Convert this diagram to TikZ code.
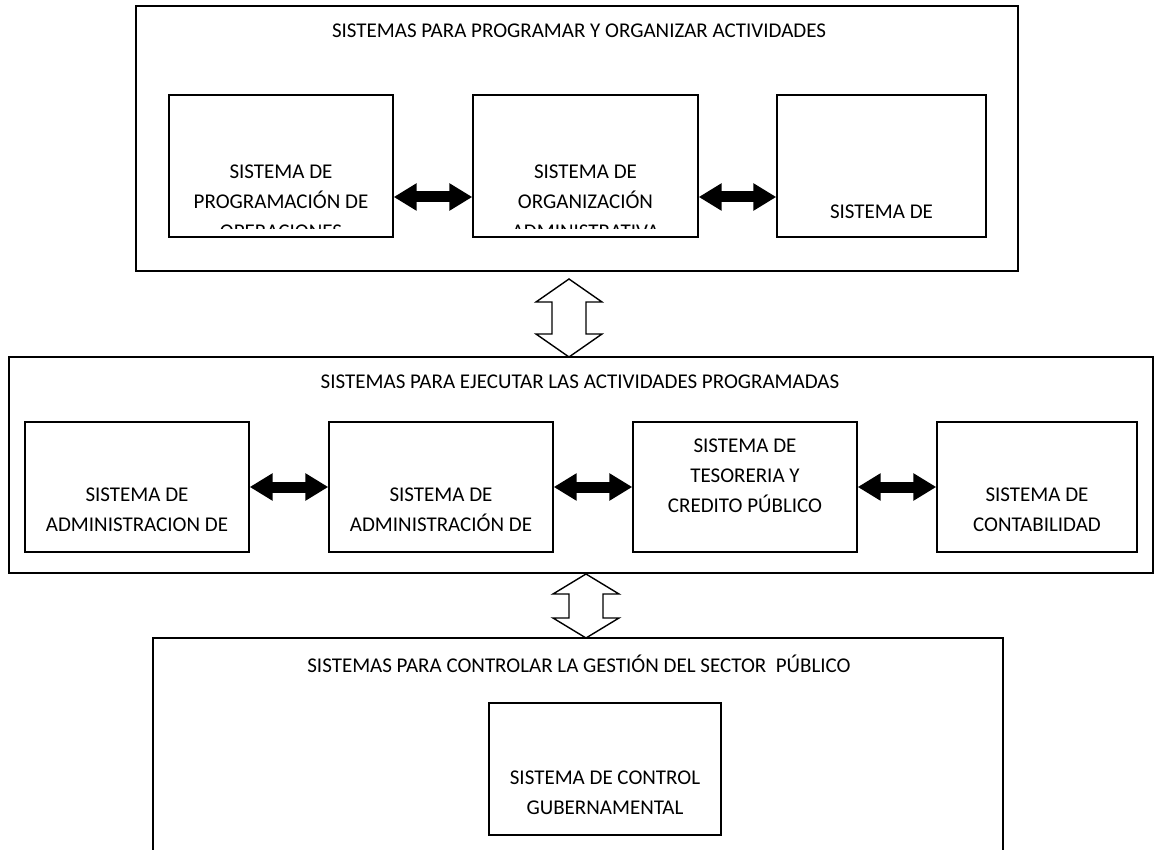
\documentclass[tikz,border=0pt]{standalone}
\usepackage{fontspec}
\setmainfont{Carlito}
\usetikzlibrary{arrows.meta}
\tikzset{
  outerbox/.style={draw, line width=1.8pt, inner sep=0pt},
  innerbox/.style={draw, line width=1.4pt, inner sep=0pt},
  lbl/.style={font=\fontsize{21}{30}\selectfont, align=center, inner sep=0pt},
  ttl/.style={font=\fontsize{21}{30}\selectfont, inner sep=0pt},
  blackarr/.style={line width=11pt, {Triangle[length=23pt,width=26pt]}-{Triangle[length=23pt,width=26pt]}},
  hollow/.style={draw, line width=1.4pt, fill=white, line join=miter}
}
\newcommand{\hollowarr}[3]{\draw[hollow] (#1) -- ++(33,#3) -- ++(-16,0) -- ++(0,#2) -- ++(16,0) -- ++(-33,#3) -- ++(-33,-#3) -- ++(16,0) -- ++(0,-#2) -- ++(-16,0) -- cycle;}
\begin{document}
\begin{tikzpicture}[x=1pt,y=-1pt]
\useasboundingbox (0,0) rectangle (1163,850);
% outer boxes
\node[outerbox, minimum width=882pt, minimum height=265pt] (P) at (577,138.5) {};
\node[outerbox, minimum width=1144pt, minimum height=216pt] (E) at (581,465) {};
\draw[line width=1.8pt] (153,860) -- (153,638) -- (1003,638) -- (1003,860);
\coordinate (C) at (578,638);
% titles
\node[ttl] (t1) at (579,31) {SISTEMAS PARA PROGRAMAR Y ORGANIZAR ACTIVIDADES};
\node[ttl] (t2) at (580,382) {SISTEMAS PARA EJECUTAR LAS ACTIVIDADES PROGRAMADAS};
\node[ttl] (t3) at (579,664) {SISTEMAS PARA CONTROLAR LA GESTIÓN DEL SECTOR\ \ PÚBLICO};
% top row
\node[innerbox, minimum width=224pt, minimum height=142pt] (A) at (281,166) {};
\node[innerbox, minimum width=225pt, minimum height=142pt] (B) at (585.5,166) {};
\node[innerbox, minimum width=209pt, minimum height=142pt] (Cc) at (881.5,166) {};
\begin{scope}
\clip (169,95) rectangle (986,229);
\node[lbl] (At) at (281,202) {SISTEMA DE\\PROGRAMACIÓN DE\\OPERACIONES};
\node[lbl] (Bt) at (585.5,202) {SISTEMA DE\\ORGANIZACIÓN\\ADMINISTRATIVA};
\node[lbl] (Ct) at (881.5,212) {SISTEMA DE};
\end{scope}
\draw[blackarr] ([yshift=-31pt]A.east) -- ([yshift=-31pt]B.west);
\draw[blackarr] ([yshift=-31pt]B.east) -- ([yshift=-31pt]Cc.west);
% middle row
\node[innerbox, minimum width=224pt, minimum height=130pt] (D) at (137,487) {};
\node[innerbox, minimum width=224pt, minimum height=130pt] (F) at (441,487) {};
\node[innerbox, minimum width=224pt, minimum height=130pt] (G) at (745,487) {};
\node[innerbox, minimum width=200pt, minimum height=130pt] (H) at (1037,487) {};
\node[lbl] (Dt) at (137,510) {SISTEMA DE\\ADMINISTRACION DE};
\node[lbl] (Ft) at (441,510) {SISTEMA DE\\ADMINISTRACIÓN DE};
\node[lbl] (Gt) at (745,476) {SISTEMA DE\\TESORERIA Y\\CREDITO PÚBLICO};
\node[lbl] (Ht) at (1037,510) {SISTEMA DE\\CONTABILIDAD};
\draw[blackarr] (D.east) -- (F.west);
\draw[blackarr] (F.east) -- (G.west);
\draw[blackarr] (G.east) -- (H.west);
% bottom
\node[innerbox, minimum width=232pt, minimum height=132pt] (K) at (605,769) {};
\node[lbl] (Kt) at (605,792.5) {SISTEMA DE CONTROL\\GUBERNAMENTAL};
% hollow arrows
\coordinate (h1) at (569,279);
\coordinate (h2) at (586,574);
\hollowarr{h1}{32}{23}
\hollowarr{h2}{24}{20}
\end{tikzpicture}
\end{document}
